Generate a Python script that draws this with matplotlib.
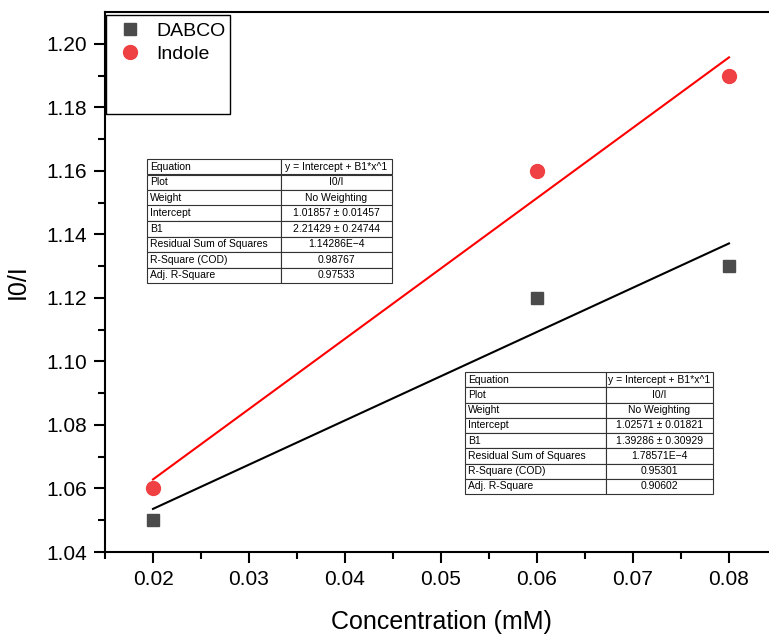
import numpy as np
import matplotlib
matplotlib.use('Agg')
from matplotlib import pyplot as plt
from matplotlib.patches import Rectangle
from matplotlib.lines import Line2D

plt.rcParams['font.family'] = ['Liberation Sans', 'DejaVu Sans']

conc = [0.02, 0.06, 0.08]
dabco = [1.05, 1.12, 1.13]
indole = [1.06, 1.16, 1.19]

table_rows = ['Equation', 'Plot', 'Weight', 'Intercept', 'B1',
              'Residual Sum of Squares', 'R-Square (COD)', 'Adj. R-Square']
indole_fit = ['y = Intercept + B1*x^1', 'I0/I', 'No Weighting',
              '1.01857 \u00b1 0.01457', '2.21429 \u00b1 0.24744',
              '1.14286E\u22124', '0.98767', '0.97533']
dabco_fit = ['y = Intercept + B1*x^1', 'I0/I', 'No Weighting',
             '1.02571 \u00b1 0.01821', '1.39286 \u00b1 0.30929',
             '1.78571E\u22124', '0.95301', '0.90602']

fig = plt.figure(figsize=(7.69, 6.39), dpi=100)
ax = fig.add_axes([105 / 769, 87 / 639, 672 / 769, 540 / 639])

sq_col = '#4b4b4b'
ci_col = '#ef4043'

ax.plot(conc, dabco, 's', color=sq_col, markersize=8.5, zorder=3)
ax.plot(conc, indole, 'o', color=ci_col, markersize=10, zorder=3)

# linear fits
xs = np.array([min(conc), max(conc)])
b, a = np.polyfit(conc, dabco, 1)
ax.plot(xs, a + b * xs, '-', color='black', linewidth=1.5)
b, a = np.polyfit(conc, indole, 1)
ax.plot(xs, a + b * xs, '-', color='red', linewidth=1.5)

ax.set_xlim(0.015, 0.085)
ax.set_ylim(1.04, 1.21)
ax.set_xticks([0.02, 0.03, 0.04, 0.05, 0.06, 0.07, 0.08])
ax.set_xticks(np.arange(0.015, 0.085, 0.01), minor=True)
ax.set_yticks(np.arange(1.04, 1.201, 0.02))
ax.set_yticks(np.arange(1.05, 1.21, 0.02), minor=True)
ax.set_yticklabels(['%.2f' % v for v in np.arange(1.04, 1.201, 0.02)])
ax.tick_params(which='major', direction='out', length=8, width=1.5,
               labelsize=15, pad=5)
ax.tick_params(which='minor', direction='out', length=5, width=1.5)
for s in ['left', 'bottom', 'top']:
    ax.spines[s].set_linewidth(1.5)
ax.spines['right'].set_visible(False)

ax.set_xlabel('Concentration (mM)', fontsize=18, labelpad=15)
ax.set_ylabel('I0/I', fontsize=18, labelpad=12)

# legend (Origin style box)
ax.add_patch(Rectangle((1 / 672, 1 - 102 / 540), 124 / 672, 99 / 540,
                       transform=ax.transAxes, fill=False, edgecolor='black',
                       linewidth=1, zorder=4))
handles = [Line2D([], [], linestyle='none', marker='s', color=sq_col, markersize=8.5),
           Line2D([], [], linestyle='none', marker='o', color=ci_col, markersize=10)]
ax.legend(handles, ['DABCO', 'Indole'], loc='upper left',
          bbox_to_anchor=(0.0045, 1.005), frameon=False, fontsize=14,
          handlelength=1.0, handletextpad=0.85, labelspacing=0.3,
          borderpad=0.4, borderaxespad=0.25)


def add_table(vals, bbox, colw):
    cells = [[r, v] for r, v in zip(table_rows, vals)]
    t = ax.table(cellText=cells, bbox=bbox, colWidths=colw, zorder=5)
    t.auto_set_font_size(False)
    t.set_fontsize(7.5)
    for (r, c), cell in t.get_celld().items():
        cell.set_linewidth(0.8)
        cell.set_edgecolor('#333333')
        cell.get_text().set_ha('left' if c == 0 else 'center')
        if c == 0:
            cell.PAD = 0.02
    return t


add_table(indole_fit, [42 / 672, 269 / 540, 245 / 672, 124 / 540], [0.547, 0.453])
add_table(dabco_fit, [360 / 672, 58 / 540, 248 / 672, 122 / 540], [0.569, 0.431])

plt.savefig('out.png', dpi=100)
plt.close(fig)
